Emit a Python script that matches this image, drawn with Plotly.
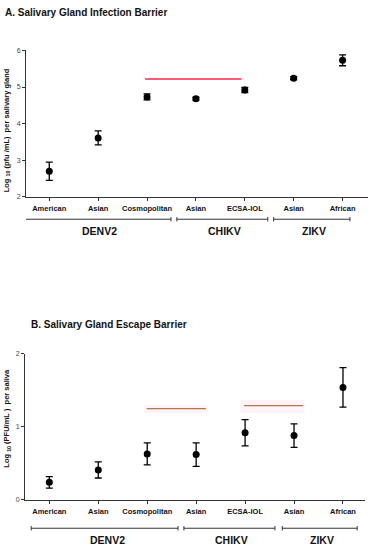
import plotly.graph_objects as go

# ---------------- data ----------------
strains = ["American", "Asian", "Cosmopolitan", "Asian", "ECSA-IOL", "Asian", "African"]
groups = ["DENV2", "CHIKV", "ZIKV"]

sg_infection_mean = [2.70, 3.61, 4.73, 4.68, 4.92, 5.24, 5.73]
sg_infection_err = [0.25, 0.19, 0.08, 0.04, 0.07, 0.04, 0.15]
sg_infection_ref = [5.22]

sg_escape_mean = [0.24, 0.41, 0.63, 0.62, 0.92, 0.88, 1.54]
sg_escape_err = [0.08, 0.11, 0.15, 0.16, 0.18, 0.16, 0.27]
sg_escape_ref = [1.25, 1.29]

# ---------------- layout helpers ----------------
W, H = 371, 550
FONT = "Liberation Sans, Arial, sans-serif"
xpos = list(range(len(strains)))


def py(px):  # pixel y (from top) -> paper
    return 1 - px / H


def pxx(px):
    return px / W


fig = go.Figure()

# Panel A
fig.add_trace(go.Scatter(
    x=xpos, y=sg_infection_mean, mode="markers",
    marker=dict(color="black", size=7),
    error_y=dict(type="data", array=sg_infection_err, color="black", thickness=1.3, width=3.5),
    xaxis="x", yaxis="y", showlegend=False, hoverinfo="y"))
fig.add_trace(go.Scatter(
    x=[1.96, 3.93], y=[sg_infection_ref[0]] * 2, mode="lines",
    line=dict(color="#ff2448", width=1.6), xaxis="x", yaxis="y", showlegend=False))

# Panel B
fig.add_trace(go.Scatter(
    x=xpos, y=sg_escape_mean, mode="markers",
    marker=dict(color="black", size=7),
    error_y=dict(type="data", array=sg_escape_err, color="black", thickness=1.3, width=3.5),
    xaxis="x2", yaxis="y2", showlegend=False, hoverinfo="y"))
for (x0, x1), yv in zip([(1.99, 3.2), (3.98, 5.19)], sg_escape_ref):
    fig.add_trace(go.Scatter(
        x=[x0, x1], y=[yv, yv], mode="lines",
        line=dict(color="#b27848", width=1.4), xaxis="x2", yaxis="y2", showlegend=False))

shapes = []
# pale pink highlights behind panel B lines
for (x0, x1, y0, y1) in [(1.94, 3.23, 1.19, 1.30), (3.91, 5.21, 1.19, 1.37)]:
    shapes.append(dict(type="rect", xref="x2", yref="y2", x0=x0, x1=x1, y0=y0, y1=y1,
                       fillcolor="#fff3f9", line=dict(width=0), layer="below"))

annotations = []

# group brackets
brackets = {
    "x": dict(spans=[(-0.52, 2.49), (2.61, 4.47), (4.59, 6.15)], y=218, label_y=230),
    "x2": dict(spans=[(-0.37, 2.63), (2.75, 4.61), (4.76, 6.29)], y=531, label_y=543),
}
for xref, b in brackets.items():
    yb = py(b["y"])
    cap = 2.2 / H
    for g, (x0, x1) in zip(groups, b["spans"]):
        shapes.append(dict(type="line", xref=xref, yref="paper", x0=x0, x1=x1, y0=yb, y1=yb,
                           line=dict(color="#333333", width=1)))
        for xc in (x0, x1):
            shapes.append(dict(type="line", xref=xref, yref="paper", x0=xc, x1=xc,
                               y0=yb - cap, y1=yb + cap, line=dict(color="#333333", width=1)))
        annotations.append(dict(text=g, xref=xref, yref="paper", x=(x0 + x1) / 2 + 0.05,
                                y=py(b["label_y"]), showarrow=False,
                                font=dict(family=FONT, size=10.5, color="#111111", weight="bold"),
                                xanchor="center", yanchor="middle"))

# titles
annotations.append(dict(text="A. Salivary Gland Infection Barrier", xref="paper", yref="paper",
                        x=pxx(3), y=py(9), xanchor="left", yanchor="middle", showarrow=False,
                        font=dict(family=FONT, size=10, color="#111111", weight="bold")))
annotations.append(dict(text="B. Salivary Gland Escape Barrier", xref="paper", yref="paper",
                        x=pxx(29), y=py(325), xanchor="left", yanchor="middle", showarrow=False,
                        font=dict(family=FONT, size=10, color="#111111", weight="bold")))
# y-axis titles
annotations.append(dict(text="Log <sub>10</sub> (pfu /mL)  per salivary gland", xref="paper",
                        yref="paper", x=pxx(7), y=py(128), textangle=-90, showarrow=False,
                        xanchor="center", yanchor="middle",
                        font=dict(family=FONT, size=7.5, color="#111111", weight="bold")))
annotations.append(dict(text="Log <sub>10</sub> (PFU/mL )  per saliva", xref="paper",
                        yref="paper", x=pxx(7), y=py(420), textangle=-90, showarrow=False,
                        xanchor="center", yanchor="middle",
                        font=dict(family=FONT, size=7.5, color="#111111", weight="bold")))

xaxis_common = dict(
    tickmode="array", tickvals=xpos, ticktext=strains,
    tickfont=dict(family=FONT, size=7.5, color="#111111", weight="bold"),
    ticks="outside", ticklen=3, tickcolor="#333333", tickwidth=1,
    showline=True, linecolor="#333333", linewidth=1, showgrid=False, zeroline=False,
    ticklabelstandoff=1, fixedrange=True)
yaxis_common = dict(
    tickfont=dict(family=FONT, size=7, color="#444444"),
    ticks="outside", ticklen=3, tickcolor="#333333", tickwidth=1,
    showline=True, linecolor="#333333", linewidth=1, showgrid=False, zeroline=False,
    dtick=1, fixedrange=True)

fig.update_layout(
    width=W, height=H,
    margin=dict(l=0, r=0, t=0, b=0),
    paper_bgcolor="white", plot_bgcolor="white",
    xaxis=dict(domain=[pxx(26), pxx(368)], range=[-0.476, 6.52], anchor="y", **xaxis_common),
    yaxis=dict(domain=[py(195.3), py(47)], range=[2, 6], anchor="x", **yaxis_common),
    xaxis2=dict(domain=[pxx(25), pxx(365)], range=[-0.497, 6.45], anchor="y2", **xaxis_common),
    yaxis2=dict(domain=[py(502.3), py(354.3)], range=[0, 2], anchor="x2", **yaxis_common),
    shapes=shapes, annotations=annotations,
    showlegend=False,
)

fig.write_html(
    "out.html",
    config={"displayModeBar": False},
    post_script="document.body.style.margin='0';document.body.style.overflow='hidden';",
)
